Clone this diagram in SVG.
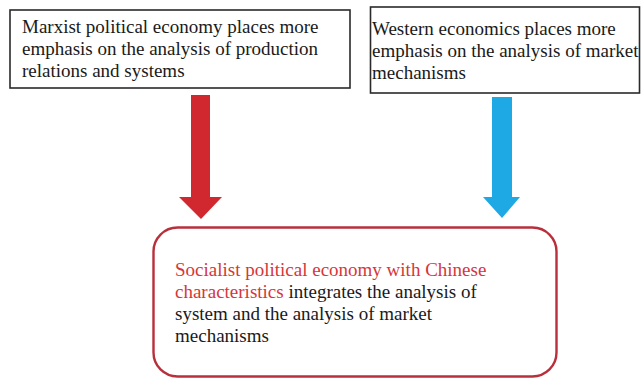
<svg xmlns="http://www.w3.org/2000/svg" width="641" height="378" viewBox="0 0 641 378">
  <rect width="641" height="378" fill="#ffffff"/>

  <!-- upper source boxes -->
  <g id="marxist">
    <rect x="10" y="10" width="340" height="78" fill="#ffffff" stroke="#2a2a2a" stroke-width="1.6"/>
    <text x="22" y="33" font-size="19" fill="#1a1a1a" font-family="'Liberation Serif'">Marxist political economy places more</text>
    <text x="22" y="55" font-size="19" fill="#1a1a1a" font-family="'Liberation Serif'">emphasis on the analysis of production</text>
    <text x="22" y="77" font-size="19" fill="#1a1a1a" font-family="'Liberation Serif'">relations and systems</text>
  </g>

  <g id="western">
    <rect x="370.5" y="7" width="269" height="86" fill="#ffffff" stroke="#2a2a2a" stroke-width="1.6"/>
    <text x="372" y="35" font-size="19" fill="#1a1a1a" font-family="'Liberation Serif'">Western economics places more</text>
    <text x="372" y="57" font-size="19" fill="#1a1a1a" font-family="'Liberation Serif'">emphasis on the analysis of market</text>
    <text x="372" y="79" font-size="19" fill="#1a1a1a" font-family="'Liberation Serif'">mechanisms</text>
  </g>

  <!-- block arrows into the lower box -->
  <g id="connectors">
    <polygon fill="#d0282e" points="191,95 210,95 210,197 222,197 201,219 179,197 191,197"/>
    <polygon fill="#1ea8e4" points="492,97 512,97 512,197 520,197 502,218 483,197 492,197"/>
  </g>

  <!-- lower rounded box -->
  <g id="socialist">
    <rect x="153.5" y="227.5" width="403" height="149" rx="24" ry="24" fill="#ffffff" stroke="#b8303c" stroke-width="2.4"/>
    <text x="175" y="276" font-size="19" fill="#d6363a" font-family="'Liberation Serif'">Socialist political economy with Chinese</text>
    <text x="175" y="298" font-size="19" fill="#1a1a1a" font-family="'Liberation Serif'"><tspan fill="#d6363a">characteristics</tspan> integrates the analysis of</text>
    <text x="175" y="320" font-size="19" fill="#1a1a1a" font-family="'Liberation Serif'">system and the analysis of market</text>
    <text x="175" y="342" font-size="19" fill="#1a1a1a" font-family="'Liberation Serif'">mechanisms</text>
  </g>
</svg>
